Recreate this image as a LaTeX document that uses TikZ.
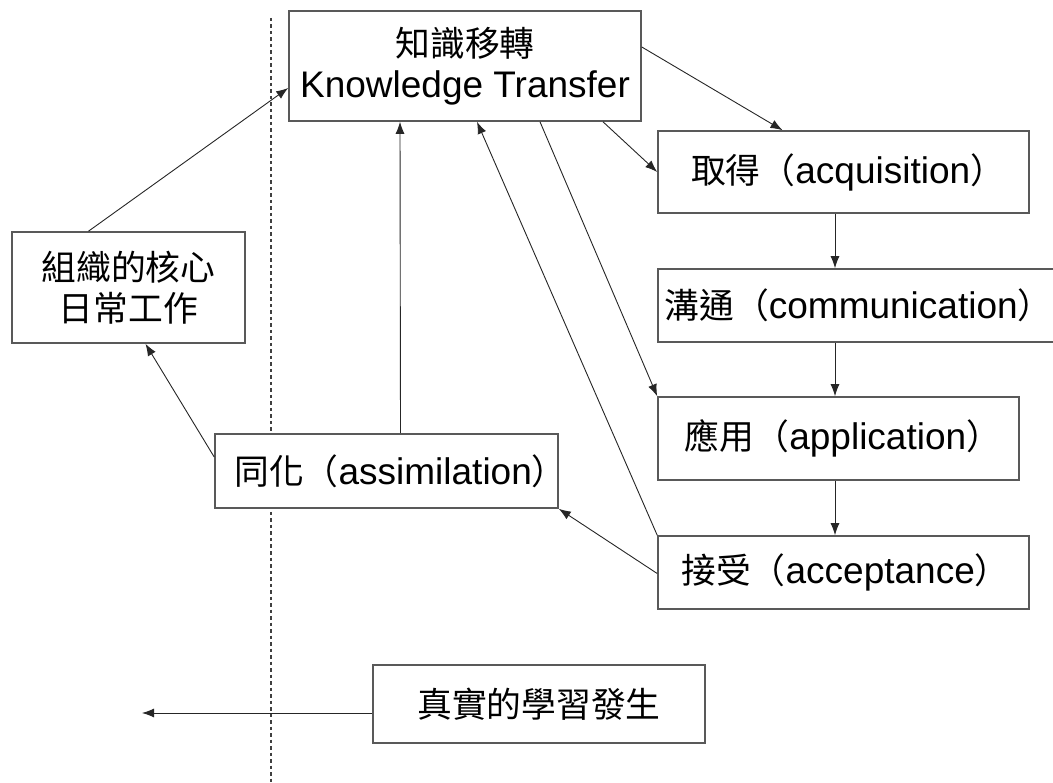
\documentclass[tikz,border=0pt]{standalone}
\usepackage{fontspec}
\setmainfont{Liberation Sans}
\newfontfamily\cjk{Noto Sans CJK TC}[Scale=0.94]
\usetikzlibrary{arrows.meta}
\newcommand\zh[1]{{\cjk #1}}

\begin{document}
\begin{tikzpicture}[x=1pt,y=-1pt,
  box/.style={draw=black!65, line width=1.6pt, fill=white, inner sep=0pt,
    font=\fontsize{37}{41}\selectfont, align=center},
  arr/.style={draw=black!85, line width=0.9pt, -{Latex[length=12pt,width=9pt]}},
  divider/.style={draw=black!75, line width=1.1pt, dash pattern=on 3.5pt off 3pt}]
  \useasboundingbox (0,0) rectangle (1053,783);

  % dividing line between the organisation and the transfer process
  \draw[divider] (271,18) coordinate (dtop) -- (271,783) coordinate (dbot);

  % boxes (a negative kern after the closing full-width bracket balances its empty right half)
  \node[box, minimum width=352, minimum height=110] (kt) at (465,66)
    {\zh{知識移轉}\\Knowledge Transfer};
  \node[box, minimum width=371, minimum height=82] (acq) at (843.5,172)
    {\zh{取得（}acquisition\zh{）}\kern-9pt};
  \node[box, minimum width=404, minimum height=73] (comm) at (860,305.5)
    {\zh{溝通（}communication\zh{）}\kern3pt};
  \node[box, minimum width=361, minimum height=83] (app) at (838.5,438.5)
    {\zh{應用（}application\zh{）}\kern-9pt};
  \node[box, minimum width=371, minimum height=73] (acc) at (843.5,572.5)
    {\zh{接受（}acceptance\zh{）}\kern-4pt};
  \node[box, minimum width=343, minimum height=74] (asm) at (386.5,471)
    {\zh{同化（}assimilation\zh{）}\kern-28pt};
  \node[box, minimum width=233, minimum height=111] (org) at (128.5,287.5)
    {\zh{組織的核心}\\\zh{日常工作}};
  \node[box, minimum width=332, minimum height=78] (real) at (539,704)
    {\zh{真實的學習發生}};
  \coordinate (out) at (142,713);

  % connectors
  \draw[arr] ([xshift=-40]org.north) -- ([yshift=-22]kt.west);
  \draw[arr] ([yshift=14]asm.west) -- ([xshift=17]org.south);
  \draw[arr] ([xshift=14]asm.north) -- ([xshift=-65]kt.south);
  \draw[arr] ([yshift=-1]acc.west) -- (asm.south east);
  \draw[arr] (acc.north west) -- ([xshift=12]kt.south);
  \draw[arr] ([xshift=75]kt.south) -- (app.north west);
  \draw[arr] ([xshift=138]kt.south) -- (acq.west);
  \draw[arr] ([yshift=19]kt.east) -- ([xshift=-61]acq.north);
  \draw[arr] ([xshift=-8.5]acq.south) -- ([xshift=-8.5]acq.south |- comm.north);
  \draw[arr] ([xshift=-8.5]acq.south |- comm.south) -- ([xshift=-8.5]acq.south |- app.north);
  \draw[arr] ([xshift=-8.5]acq.south |- app.south) -- ([xshift=-8.5]acq.south |- acc.north);
  \draw[arr] ([yshift=-9]real.west) -- (out);
\end{tikzpicture}
\end{document}
